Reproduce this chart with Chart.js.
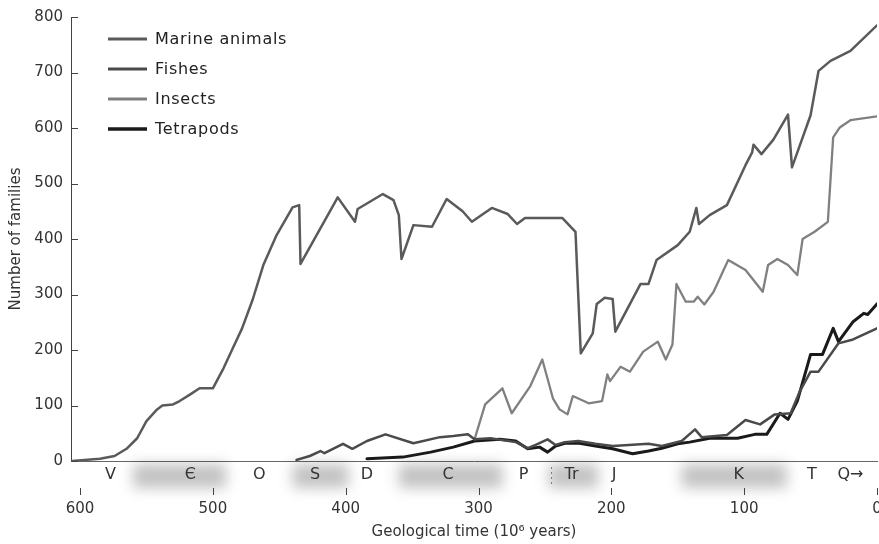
<!DOCTYPE html>
<html>
<head>
<meta charset="utf-8">
<script src="https://cdn.jsdelivr.net/npm/chart.js@4.4.0/dist/chart.umd.min.js"></script>
<style>
  html, body { margin: 0; padding: 0; background: #fff; overflow: hidden; }
  #wrap { width: 884px; height: 544px; }
</style>
</head>
<body>
<div id="wrap"><canvas id="familyChart" width="884" height="544"></canvas></div>
<script>
// ages in millions of years ago, counts = number of families
const marineAge = [606, 585, 574, 565, 557, 550, 542, 538, 530, 525, 517, 510, 500, 492, 485, 478, 470, 462, 452, 440, 435, 434, 406, 393, 391, 372, 364, 360, 358, 349, 335, 324, 312, 305, 290, 278, 271, 265, 237, 227, 223, 214, 211, 205, 199, 197, 178, 172, 166, 150, 141, 136, 134, 126, 113, 99, 94, 93, 87, 78, 67, 64, 50, 44, 35, 20, 0];
const marineFamilies = [0, 4, 9, 22, 41, 72, 93, 100, 102, 108, 120, 131, 131, 167, 203, 239, 291, 353, 407, 457, 461, 355, 475, 431, 454, 481, 470, 443, 364, 425, 422, 472, 450, 431, 456, 445, 427, 438, 438, 413, 194, 230, 283, 294, 292, 233, 319, 319, 362, 389, 413, 456, 427, 443, 461, 533, 556, 570, 553, 579, 624, 529, 623, 703, 721, 739, 785];

const fishAge = [437, 427, 419, 416, 402, 395, 384, 370, 349, 329, 319, 308, 303, 291, 272, 263, 257, 248, 242, 235, 225, 212, 199, 187, 172, 162, 147, 137, 132, 113, 99, 88, 77, 65, 58, 50, 44, 29, 18, 0];
const fishFamilies = [2, 9, 18, 14, 31, 22, 36, 48, 32, 43, 45, 48, 39, 41, 34, 23, 29, 39, 29, 34, 36, 31, 27, 29, 31, 27, 36, 57, 43, 47, 74, 66, 84, 86, 126, 161, 161, 212, 219, 239];

const insectAge = [303, 295, 282, 275, 261, 252, 244, 239, 233, 229, 217, 207, 203, 201, 193, 186, 176, 165, 159, 154, 151, 144, 138, 135, 130, 123, 112, 99, 86, 82, 75, 67, 60, 56, 47, 37, 33, 28, 20, 0];
const insectFamilies = [39, 102, 131, 86, 135, 183, 113, 93, 84, 117, 104, 108, 156, 144, 170, 161, 197, 215, 183, 210, 319, 287, 287, 296, 282, 305, 362, 344, 305, 353, 364, 353, 335, 400, 413, 431, 583, 601, 614, 621];

const tetrapodAge = [384, 357, 336, 319, 303, 284, 272, 263, 254, 248, 242, 235, 224, 212, 199, 184, 172, 162, 150, 141, 126, 105, 92, 83, 73, 67, 60, 50, 41, 33, 29, 18, 10, 7, 0];
const tetrapodFamilies = [4, 7, 16, 25, 36, 39, 36, 22, 25, 16, 27, 32, 32, 27, 22, 13, 18, 23, 31, 34, 41, 41, 48, 48, 86, 75, 108, 192, 192, 239, 215, 251, 266, 264, 283];

const seriesNames = ['Marine animals', 'Fishes', 'Insects', 'Tetrapods'];
const seriesColors = ['#5a5a5a', '#4a4a4a', '#808080', '#1a1a1a'];
const seriesWidths = [2.5, 2.5, 2.3, 3];

const xTicks = [600, 500, 400, 300, 200, 100, 0];
const periodNames = ['V', 'Є', 'O', 'S', 'D', 'C', 'P', 'Tr', 'J', 'K', 'T', 'Q→'];
const periodAt = [577, 517, 465, 423, 384, 323, 266, 230, 198, 104, 49, 20];
const shadedPeriods = [[560, 490], [440, 398], [360, 282], [247, 210], [147, 68]];
const permianTriassic = 245;

const FONT = '"DejaVu Sans", sans-serif';
const INK = '#333';

function pairs(ages, counts) {
  return ages.map((a, i) => ({ x: a, y: counts[i] }));
}

const seriesData = [
  pairs(marineAge, marineFamilies),
  pairs(fishAge, fishFamilies),
  pairs(insectAge, insectFamilies),
  pairs(tetrapodAge, tetrapodFamilies)
];

// blurred period bands, period letters and the detached x tick marks
const periodRow = {
  id: 'periodRow',
  beforeDatasetsDraw(chart) {
    const ctx = chart.ctx;
    const xs = chart.scales.x;
    const ys = chart.scales.y;
    const base = chart.chartArea.bottom;

    ctx.save();
    ctx.filter = 'blur(7px)';
    ctx.fillStyle = 'rgba(0,0,0,0.24)';
    shadedPeriods.forEach(([from, to]) => {
      const a = xs.getPixelForValue(from);
      const b = xs.getPixelForValue(to);
      ctx.fillRect(a, base + 3, b - a, 24);
    });
    ctx.restore();

    ctx.save();
    ctx.font = '16px ' + FONT;
    ctx.fillStyle = INK;
    ctx.textAlign = 'center';
    ctx.textBaseline = 'middle';
    periodNames.forEach((name, i) => {
      ctx.fillText(name, xs.getPixelForValue(periodAt[i]), base + 14);
    });

    // dotted Permian/Triassic divider
    const px = xs.getPixelForValue(permianTriassic);
    ctx.strokeStyle = '#777';
    ctx.lineWidth = 1;
    ctx.setLineDash([2, 3]);
    ctx.beginPath();
    ctx.moveTo(px, base + 6);
    ctx.lineTo(px, base + 24);
    ctx.stroke();
    ctx.setLineDash([]);

    // x tick marks sit below the period row
    ctx.strokeStyle = '#444';
    xs.ticks.forEach(t => {
      const x = Math.round(xs.getPixelForValue(t.value)) + 0.5;
      ctx.beginPath();
      ctx.moveTo(x, base + 27);
      ctx.lineTo(x, base + 34);
      ctx.stroke();
    });

    // short inward y tick marks
    ctx.strokeStyle = '#444';
    ys.ticks.forEach(t => {
      const y = Math.round(ys.getPixelForValue(t.value)) + 0.5;
      ctx.beginPath();
      ctx.moveTo(chart.chartArea.left, y);
      ctx.lineTo(chart.chartArea.left + 7, y);
      ctx.stroke();
    });
    ctx.restore();
  }
};

const legendBox = {
  id: 'legendBox',
  afterDatasetsDraw(chart) {
    const ctx = chart.ctx;
    ctx.save();
    ctx.font = '16px ' + FONT;
    ctx.letterSpacing = '0.7px';
    ctx.textBaseline = 'middle';
    chart.data.datasets.forEach((ds, i) => {
      const y = 39 + i * 30;
      ctx.strokeStyle = ds.borderColor;
      ctx.lineWidth = ds.borderWidth + 0.5;
      ctx.beginPath();
      ctx.moveTo(108, y);
      ctx.lineTo(147, y);
      ctx.stroke();
      ctx.fillStyle = '#222';
      ctx.fillText(ds.label, 155, y + 1);
    });
    ctx.restore();
  }
};

new Chart(document.getElementById('familyChart'), {
  type: 'line',
  data: {
    datasets: seriesNames.map((name, i) => ({
      label: name,
      data: seriesData[i],
      borderColor: seriesColors[i],
      backgroundColor: seriesColors[i],
      borderWidth: seriesWidths[i],
      pointRadius: 0,
      tension: 0,
      fill: false
    }))
  },
  options: {
    responsive: false,
    animation: false,
    layout: { padding: { left: 7, right: 7, top: 13, bottom: 3 } },
    plugins: { legend: { display: false }, tooltip: { enabled: false } },
    elements: { line: { borderJoinStyle: 'round', borderCapStyle: 'round' } },
    scales: {
      x: {
        type: 'linear',
        reverse: true,
        min: 0,
        max: 606.8,
        grid: { display: false, drawTicks: false },
        border: { display: true, color: '#666', width: 1 },
        afterBuildTicks: s => { s.ticks = xTicks.map(v => ({ value: v })); },
        ticks: {
          padding: 39,
          maxRotation: 0,
          autoSkip: false,
          color: INK,
          font: { family: FONT, size: 15 }
        },
        title: {
          display: true,
          text: 'Geological time (10⁶ years)',
          color: INK,
          font: { family: FONT, size: 15 },
          padding: 0
        },
        afterFit: s => { s.height = 80; s.paddingLeft = 0; s.paddingRight = 0; }
      },
      y: {
        min: 0,
        max: 800,
        grid: { display: false, drawTicks: false },
        border: { display: true, color: '#444', width: 1 },
        ticks: {
          stepSize: 100,
          padding: 8,
          color: INK,
          font: { family: FONT, size: 15 }
        },
        title: {
          display: true,
          text: 'Number of families',
          color: INK,
          font: { family: FONT, size: 15 },
          padding: 0
        },
        afterFit: s => { s.width = 64; }
      }
    }
  },
  plugins: [periodRow, legendBox]
});
</script>
</body>
</html>
